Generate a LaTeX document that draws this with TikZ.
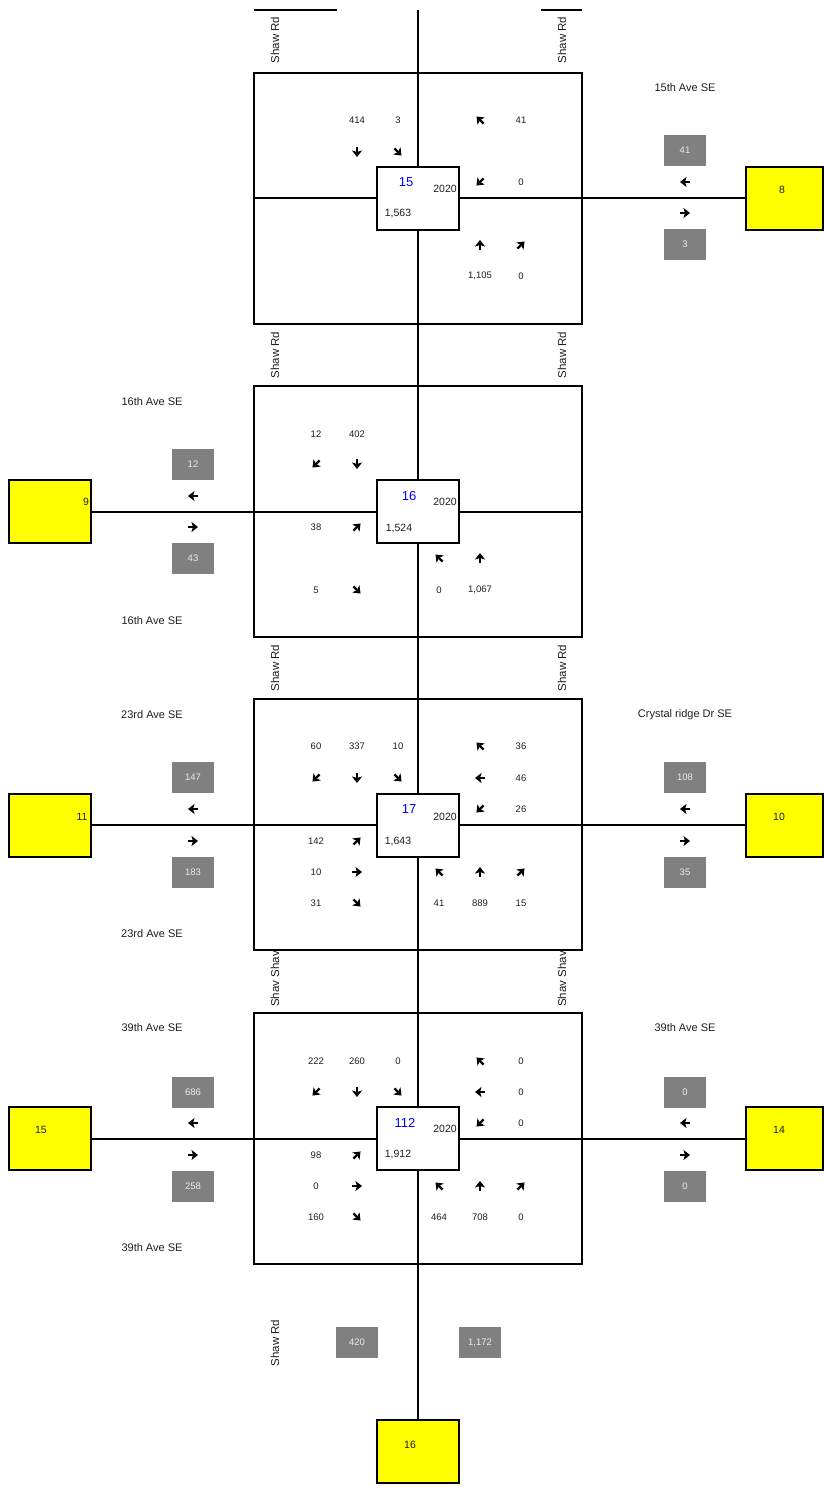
\documentclass[tikz,border=0pt]{standalone}
\usepackage{fontspec}
\setmainfont{Liberation Sans}
\usetikzlibrary{arrows.meta}
\definecolor{idblue}{RGB}{0,0,255}
\definecolor{boxgray}{RGB}{128,128,128}
\definecolor{zoneyellow}{RGB}{255,255,0}
\definecolor{txt}{RGB}{30,30,30}
\newcommand\mvarrow[3]{\pic[rotate=#3] at (#1,#2) {mvglyph};}
\begin{document}
\begin{tikzpicture}[x=1pt,y=-1pt,
  road/.style={line width=2pt},
  frame/.style={draw, line width=2pt, minimum width=328pt, minimum height=251pt, inner sep=0pt},
  ctr/.style={draw, fill=white, line width=2pt, minimum width=82pt, minimum height=63pt, inner sep=0pt},
  zone/.style={draw, fill=zoneyellow, line width=2pt, minimum width=82pt, minimum height=63pt, inner sep=0pt},
  zonelbl/.style={text=txt, font=\fontsize{10.5}{12}\selectfont, inner sep=0pt},
  vol/.style={fill=boxgray, text=white!92!black, minimum width=42pt, minimum height=31pt, inner sep=0pt, font=\fontsize{9.5}{11}\selectfont},
  num/.style={text=txt, font=\fontsize{9.5}{11}\selectfont, inner sep=0pt},
  street/.style={text=txt, font=\fontsize{11}{13}\selectfont, inner sep=0pt},
  shaw/.style={text=txt, font=\fontsize{11.5}{13}\selectfont, inner sep=0pt, rotate=90},
  nid/.style={text=idblue, font=\fontsize{13}{15}\selectfont, inner sep=0pt},
  yr/.style={text=txt, font=\fontsize{10.5}{12}\selectfont, inner sep=0pt},
  tot/.style={text=txt, font=\fontsize{10.5}{12}\selectfont, inner sep=0pt},
  mvglyph/.pic={\draw[line width=2.4pt,-{Stealth[length=6.5pt,width=10pt,inset=1.5pt]}] (-5,0) -- (5,0);}
]
\useasboundingbox (0,0) rectangle (824,1486);

% frames and zones
\node[frame] (f1) at (418,198) {};
\node[frame] (f2) at (418,511.5) {};
\node[frame] (f3) at (418,824.5) {};
\node[frame] (f4) at (418,1138) {};
\node[zone, minimum width=77pt] (z8) at (784.5,198.5) {};
\node[zone] (z9) at (50,511.5) {};
\node[zone] (z11) at (50,825) {};
\node[zone, minimum width=77pt] (z10) at (784.5,825) {};
\node[zone] (z15) at (50,1138.5) {};
\node[zone, minimum width=77pt] (z14) at (784.5,1138.5) {};
\node[zone] (z16) at (418,1451.5) {};

% roads
\coordinate (top) at (418,10);
\coordinate (tl1) at (254,10);
\coordinate (tl2) at (337,10);
\coordinate (tr1) at (541,10);
\coordinate (tr2) at (582,10);
\draw[road] (top) -- (z16.north);
\draw[road] (tl1) -- (tl2);
\draw[road] (tr1) -- (tr2);
\draw[road] (f1.west) -- (f1.west -| z8.west);
\draw[road] (z9.east) -- (z9.east -| f2.east);
\draw[road] (z11.east) -- (z10.west);
\draw[road] (z15.east) -- (z14.west);

% centre boxes
\node[ctr] (c15) at (418,198.5) {};
\node[ctr] (c16) at (418,511.5) {};
\node[ctr] (c17) at (418,825) {};
\node[ctr] (c112) at (418,1138.5) {};

% zone labels
\node[zonelbl] (l8) at (782,190) {8};
\node[zonelbl] (l9) at (86,502) {9};
\node[zonelbl] (l11) at (82,817) {11};
\node[zonelbl] (l10) at (779,817) {10};
\node[zonelbl] (l15) at (41,1130) {15};
\node[zonelbl] (l14) at (779,1130) {14};
\node[zonelbl] (l16) at (410,1445) {16};

% Shaw Rd labels
\node[shaw] (s1) at (275,40) {Shaw Rd};
\node[shaw] (s2) at (562,40) {Shaw Rd};
\node[shaw] (s3) at (275,355) {Shaw Rd};
\node[shaw] (s4) at (562,355) {Shaw Rd};
\node[shaw] (s5) at (275,668) {Shaw Rd};
\node[shaw] (s6) at (562,668) {Shaw Rd};
\node[shaw] (s7) at (275,979) {Shav Shav};
\node[shaw] (s8) at (562,979) {Shav Shav};
\node[shaw] (s9) at (275,1343) {Shaw Rd};

% ===== Intersection 15 =====
\node[nid] (id15) at (406,182) {15};
\node[yr] (y15) at (445,189) {2020};
\node[tot] (t15) at (398,214) {1,563};
\node[num] (a1) at (357,120) {414};
\node[num] (a2) at (398,120) {3};
\node[num] (a3) at (521,120) {41};
\node[num] (a4) at (521,182) {0};
\node[num] (a5) at (480,276) {1,105};
\node[num] (a6) at (521,276) {0};
\mvarrow{357}{152}{-90}
\mvarrow{398}{152}{-45}
\mvarrow{480}{120}{135}
\mvarrow{480}{182}{-135}
\mvarrow{480}{245}{90}
\mvarrow{521}{245}{45}
\node[street] (st1) at (685,88) {15th Ave SE};
\node[vol] (v1) at (685,150.5) {41};
\mvarrow{685}{182}{180}
\mvarrow{685}{213}{0}
\node[vol] (v2) at (685,244.5) {3};

% ===== Intersection 16 =====
\node[nid] (id16) at (409,496) {16};
\node[yr] (y16) at (445,502) {2020};
\node[tot] (t16) at (399,528) {1,524};
\node[num] (b1) at (316,434) {12};
\node[num] (b2) at (357,434) {402};
\node[num] (b3) at (316,527) {38};
\node[num] (b4) at (316,590) {5};
\node[num] (b5) at (439,590) {0};
\node[num] (b6) at (480,590) {1,067};
\mvarrow{316}{464}{-135}
\mvarrow{357}{464}{-90}
\mvarrow{357}{527}{45}
\mvarrow{357}{590}{-45}
\mvarrow{439}{558}{135}
\mvarrow{480}{558}{90}
\node[street] (st2) at (152,402) {16th Ave SE};
\node[vol] (v3) at (193,464.5) {12};
\mvarrow{193}{496}{180}
\mvarrow{193}{527}{0}
\node[vol] (v4) at (193,558.5) {43};
\node[street] (st3) at (152,621) {16th Ave SE};

% ===== Intersection 17 =====
\node[nid] (id17) at (409,809) {17};
\node[yr] (y17) at (445,817) {2020};
\node[tot] (t17) at (398,841) {1,643};
\node[num] (c1) at (316,746) {60};
\node[num] (c2) at (357,746) {337};
\node[num] (c3) at (398,746) {10};
\node[num] (c4) at (521,746) {36};
\node[num] (c5) at (521,778) {46};
\node[num] (c6) at (521,809) {26};
\node[num] (c7) at (316,841) {142};
\node[num] (c8) at (316,872) {10};
\node[num] (c9) at (316,903) {31};
\node[num] (c10) at (439,903) {41};
\node[num] (c11) at (480,903) {889};
\node[num] (c12) at (521,903) {15};
\mvarrow{316}{778}{-135}
\mvarrow{357}{778}{-90}
\mvarrow{398}{778}{-45}
\mvarrow{480}{746}{135}
\mvarrow{480}{778}{180}
\mvarrow{480}{809}{-135}
\mvarrow{357}{841}{45}
\mvarrow{357}{872}{0}
\mvarrow{357}{903}{-45}
\mvarrow{439}{872}{135}
\mvarrow{480}{872}{90}
\mvarrow{521}{872}{45}
\node[street] (st4) at (152,715) {23rd Ave SE};
\node[vol] (v5) at (193,777.5) {147};
\mvarrow{193}{809}{180}
\mvarrow{193}{841}{0}
\node[vol] (v6) at (193,872.5) {183};
\node[street] (st5) at (152,934) {23rd Ave SE};
\node[street] (st6) at (685,715) {Crystal ridge Dr SE};
\node[vol] (v7) at (685,777.5) {108};
\mvarrow{685}{809}{180}
\mvarrow{685}{841}{0}
\node[vol] (v8) at (685,872.5) {35};

% ===== Intersection 112 =====
\node[nid] (id112) at (405,1123) {112};
\node[yr] (y112) at (445,1129) {2020};
\node[tot] (t112) at (398,1154) {1,912};
\node[num] (d1) at (316,1061) {222};
\node[num] (d2) at (357,1061) {260};
\node[num] (d3) at (398,1061) {0};
\node[num] (d4) at (521,1061) {0};
\node[num] (d5) at (521,1092) {0};
\node[num] (d6) at (521,1123) {0};
\node[num] (d7) at (316,1155) {98};
\node[num] (d8) at (316,1186) {0};
\node[num] (d9) at (316,1217) {160};
\node[num] (d10) at (439,1217) {464};
\node[num] (d11) at (480,1217) {708};
\node[num] (d12) at (521,1217) {0};
\mvarrow{316}{1092}{-135}
\mvarrow{357}{1092}{-90}
\mvarrow{398}{1092}{-45}
\mvarrow{480}{1061}{135}
\mvarrow{480}{1092}{180}
\mvarrow{480}{1123}{-135}
\mvarrow{357}{1155}{45}
\mvarrow{357}{1186}{0}
\mvarrow{357}{1217}{-45}
\mvarrow{439}{1186}{135}
\mvarrow{480}{1186}{90}
\mvarrow{521}{1186}{45}
\node[street] (st7) at (152,1028) {39th Ave SE};
\node[vol] (v9) at (193,1092) {686};
\mvarrow{193}{1123}{180}
\mvarrow{193}{1155}{0}
\node[vol] (v10) at (193,1186) {258};
\node[street] (st8) at (152,1248) {39th Ave SE};
\node[street] (st9) at (685,1028) {39th Ave SE};
\node[vol] (v11) at (685,1092) {0};
\mvarrow{685}{1123}{180}
\mvarrow{685}{1155}{0}
\node[vol] (v12) at (685,1186) {0};

% bottom
\node[vol] (v13) at (357,1342.5) {420};
\node[vol] (v14) at (480,1342.5) {1,172};
\end{tikzpicture}
\end{document}
